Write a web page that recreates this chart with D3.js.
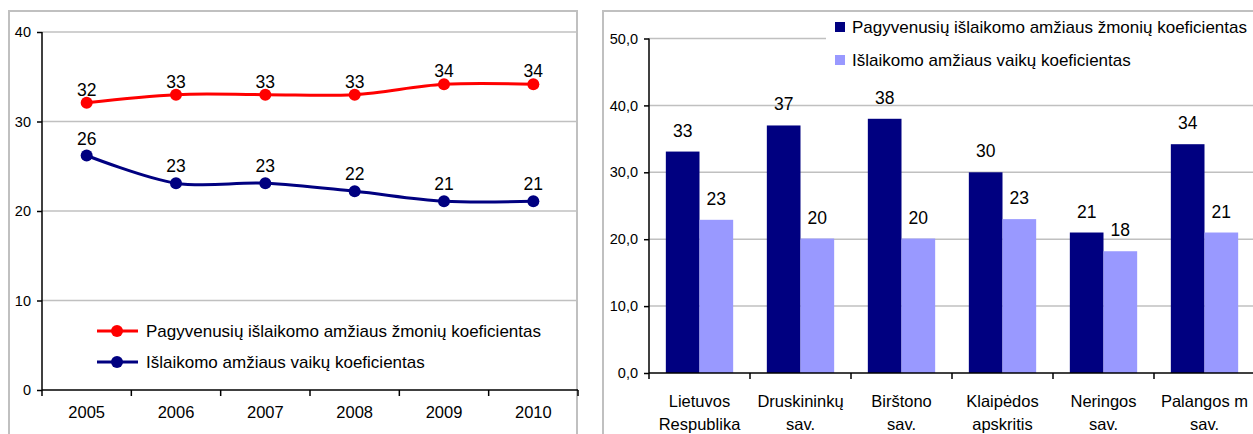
<!DOCTYPE html>
<html>
<head>
<meta charset="utf-8">
<script src="https://cdn.jsdelivr.net/npm/d3@7"></script>
<style>
  body { margin: 0; background: #fff; font-family: "Liberation Sans", Arial, sans-serif; }
  svg text { font-family: "Liberation Sans", Arial, sans-serif; fill: #000; }
</style>
</head>
<body>
<svg id="chart" width="1253" height="434"></svg>
<script>
// ---- data ----
var years = ["2005", "2006", "2007", "2008", "2009", "2010"];
var elderly = [32.1, 33.0, 33.0, 33.0, 34.15, 34.15];
var elderlyLabels = ["32", "33", "33", "33", "34", "34"];
var children = [26.2, 23.1, 23.1, 22.2, 21.1, 21.1];
var childrenLabels = ["26", "23", "23", "22", "21", "21"];
var lineTicks = [0, 10, 20, 30, 40];

var regions = [["Lietuvos", "Respublika"], ["Druskininkų", "sav."], ["Birštono", "sav."],
               ["Klaipėdos", "apskritis"], ["Neringos", "sav."], ["Palangos m", "sav."]];
var barElderly = [33.1, 37, 38, 30, 21, 34.2];
var barChildren = [22.9, 20.1, 20.1, 23, 18.2, 21];
var barTicks = [0, 10, 20, 30, 40, 50];

var seriesNames = ["Pagyvenusių išlaikomo amžiaus žmonių koeficientas",
                   "Išlaikomo amžiaus vaikų koeficientas"];

var svg = d3.select("#chart");

// ---------- left: line chart ----------
var L = svg.append("g");
L.append("rect").attr("x", 9).attr("y", 11).attr("width", 568).attr("height", 440)
  .attr("fill", "#fff").attr("stroke", "#c0c0c0").attr("stroke-width", 2);

var lx = d3.scaleBand().domain(years).range([42, 578]);
var ly = d3.scaleLinear().domain([0, 40]).range([390, 32]);

L.selectAll(".grid").data(lineTicks.slice(1)).enter().append("line")
  .attr("x1", 42).attr("x2", 578)
  .attr("y1", d => ly(d)).attr("y2", d => ly(d))
  .attr("stroke", "#c0c0c0").attr("stroke-width", 1.5);

var lyAxis = L.append("g").attr("transform", "translate(42,0)")
  .call(d3.axisLeft(ly).tickValues(lineTicks).tickSize(5).tickPadding(6));
var lxAxis = L.append("g").attr("transform", "translate(0,390)")
  .call(d3.axisBottom(lx).tickSize(5).tickPadding(11));
lxAxis.selectAll(".tick line").remove();
L.selectAll(".xt").data(d3.range(7)).enter().append("line")
  .attr("x1", i => 42 + i * lx.step()).attr("x2", i => 42 + i * lx.step())
  .attr("y1", 390).attr("y2", 396).attr("stroke", "#000").attr("stroke-width", 1.5);
[lyAxis, lxAxis].forEach(function(a) {
  a.select(".domain").attr("stroke", "#000").attr("stroke-width", 1.5);
  a.selectAll(".tick line").attr("stroke", "#000").attr("stroke-width", 1.5);
  a.selectAll("text").attr("font-size", 14.5).attr("fill", "#000");
});
lxAxis.selectAll("text").attr("font-size", 16.5);
lyAxis.select(".domain").attr("d", "M0,390V32");
lxAxis.select(".domain").attr("d", "M42,0H578");

var line = d3.line()
  .x((d, i) => lx(years[i]) + lx.bandwidth() / 2)
  .y(d => ly(d))
  .curve(d3.curveCatmullRom.alpha(0));

function drawSeries(vals, labels, color, off) {
  L.append("path").attr("d", line(vals)).attr("fill", "none")
    .attr("stroke", color).attr("stroke-width", 3);
  L.selectAll(null).data(vals).enter().append("circle")
    .attr("cx", (d, i) => lx(years[i]) + lx.bandwidth() / 2)
    .attr("cy", d => ly(d)).attr("r", 6).attr("fill", color);
  L.selectAll(null).data(vals).enter().append("text")
    .attr("x", (d, i) => lx(years[i]) + lx.bandwidth() / 2)
    .attr("y", d => ly(d) - off)
    .attr("text-anchor", "middle").attr("font-size", 17.5)
    .text((d, i) => labels[i]);
}
drawSeries(elderly, elderlyLabels, "#ff0000", 7);
drawSeries(children, childrenLabels, "#000080", 11);

var lLeg = L.selectAll(".lleg").data(seriesNames).enter().append("g")
  .attr("transform", (d, i) => "translate(97," + (331 + i * 31) + ")");
lLeg.append("line").attr("x1", 0).attr("x2", 41).attr("stroke-width", 3)
  .attr("stroke", (d, i) => i ? "#000080" : "#ff0000");
lLeg.append("circle").attr("cx", 20).attr("r", 6)
  .attr("fill", (d, i) => i ? "#000080" : "#ff0000");
lLeg.append("text").attr("x", 49).attr("y", 6).attr("font-size", 17).text(d => d);

// ---------- right: bar chart ----------
var R = svg.append("g");
R.append("rect").attr("x", 603).attr("y", 11).attr("width", 700).attr("height", 440)
  .attr("fill", "#fff").attr("stroke", "#c0c0c0").attr("stroke-width", 2);

var names = regions.map(r => r.join(" "));
var bx = d3.scaleBand().domain(names).range([649, 649 + 6 * 101]);
var inner = d3.scaleBand().domain([0, 1]).range([0, bx.bandwidth()]).paddingInner(0).paddingOuter(0.5);
var by = d3.scaleLinear().domain([0, 50]).range([373, 38.5]);

R.selectAll(".grid").data(barTicks.slice(1)).enter().append("line")
  .attr("x1", 649).attr("x2", 1253)
  .attr("y1", d => by(d)).attr("y2", d => by(d))
  .attr("stroke", "#c0c0c0").attr("stroke-width", 1.5);

var fmt = d => d3.format(".1f")(d).replace(".", ",");
var byAxis = R.append("g").attr("transform", "translate(649,0)")
  .call(d3.axisLeft(by).tickValues(barTicks).tickFormat(fmt).tickSize(5).tickPadding(6));
byAxis.select(".domain").attr("d", "M0,373V38.5").attr("stroke", "#000").attr("stroke-width", 1.5);
byAxis.selectAll(".tick line").attr("stroke", "#000").attr("stroke-width", 1.5);
byAxis.selectAll("text").attr("font-size", 14.5).attr("fill", "#000");

var groups = R.selectAll(".cat").data(names).enter().append("g")
  .attr("transform", d => "translate(" + bx(d) + ",0)");
groups.append("rect").attr("x", inner(0)).attr("width", inner.bandwidth())
  .attr("y", (d, i) => by(barElderly[i])).attr("height", (d, i) => by(0) - by(barElderly[i]))
  .attr("fill", "#000080");
groups.append("rect").attr("x", inner(1)).attr("width", inner.bandwidth())
  .attr("y", (d, i) => by(barChildren[i])).attr("height", (d, i) => by(0) - by(barChildren[i]))
  .attr("fill", "#9999ff");
groups.append("text").attr("x", inner(0) + inner.bandwidth() / 2)
  .attr("y", (d, i) => by(barElderly[i]) - 15).attr("text-anchor", "middle").attr("font-size", 17.5)
  .text((d, i) => Math.round(barElderly[i]));
groups.append("text").attr("x", inner(1) + inner.bandwidth() / 2)
  .attr("y", (d, i) => by(barChildren[i]) - 15).attr("text-anchor", "middle").attr("font-size", 17.5)
  .text((d, i) => Math.round(barChildren[i]));

R.append("line").attr("x1", 649).attr("x2", 1253).attr("y1", 373).attr("y2", 373)
  .attr("stroke", "#000").attr("stroke-width", 1.5);
R.selectAll(".xt").data(d3.range(7)).enter().append("line")
  .attr("x1", i => 649 + i * bx.step()).attr("x2", i => 649 + i * bx.step())
  .attr("y1", 373).attr("y2", 379).attr("stroke", "#000").attr("stroke-width", 1.5);
groups.each(function(d, i) {
  var t = d3.select(this).append("text").attr("text-anchor", "middle").attr("font-size", 16.5);
  regions[i].forEach(function(s, j) {
    t.append("tspan").attr("x", bx.bandwidth() / 2).attr("y", 407 + j * 23).text(s);
  });
});

// legend with white box
R.append("rect").attr("x", 826).attr("y", 13).attr("width", 430).attr("height", 62).attr("fill", "#fff");
var rLeg = R.selectAll(".rleg").data(seriesNames).enter().append("g")
  .attr("transform", (d, i) => "translate(835," + (27 + i * 33) + ")");
rLeg.append("rect").attr("x", 0).attr("y", -5).attr("width", 10).attr("height", 10)
  .attr("fill", (d, i) => i ? "#9999ff" : "#000080");
rLeg.append("text").attr("x", 17).attr("y", 6).attr("font-size", 17).text(d => d);
</script>
</body>
</html>
